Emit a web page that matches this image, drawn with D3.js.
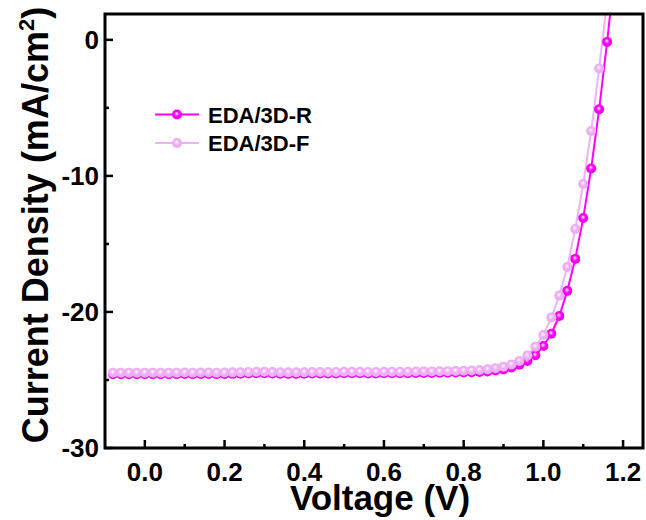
<!DOCTYPE html>
<html>
<head>
<meta charset="utf-8">
<script src="https://cdn.jsdelivr.net/npm/d3@7"></script>
<style>
html,body{margin:0;padding:0;background:#fff;}
svg{display:block;font-family:"Liberation Sans",Arial,sans-serif;}
</style>
</head>
<body>
<svg id="chart" width="646" height="520"></svg>
<script>
// ---- data ----
const voltageR = [-0.08,-0.06,-0.04,-0.02,0.00,0.02,0.04,0.06,0.08,0.10,0.12,0.14,0.16,0.18,0.20,0.22,0.24,0.26,0.28,0.30,0.32,0.34,0.36,0.38,0.40,0.42,0.44,0.46,0.48,0.50,0.52,0.54,0.56,0.58,0.60,0.62,0.64,0.66,0.68,0.70,0.72,0.74,0.76,0.78,0.80,0.82,0.84,0.86,0.88,0.90,0.92,0.94,0.96,0.98,1.00,1.02,1.04,1.06,1.08,1.10,1.12,1.14,1.16,1.18];
const currentR = [-24.58,-24.58,-24.57,-24.58,-24.57,-24.57,-24.58,-24.57,-24.57,-24.56,-24.57,-24.56,-24.56,-24.57,-24.56,-24.55,-24.54,-24.52,-24.50,-24.51,-24.53,-24.54,-24.55,-24.55,-24.54,-24.53,-24.53,-24.52,-24.52,-24.51,-24.51,-24.51,-24.52,-24.52,-24.51,-24.50,-24.50,-24.50,-24.49,-24.48,-24.48,-24.47,-24.46,-24.45,-24.44,-24.43,-24.41,-24.37,-24.31,-24.22,-24.08,-23.88,-23.60,-23.18,-22.50,-21.60,-20.30,-18.45,-16.10,-13.10,-9.45,-5.10,-0.15,5.30];
const voltageF = [-0.08,-0.06,-0.04,-0.02,0.00,0.02,0.04,0.06,0.08,0.10,0.12,0.14,0.16,0.18,0.20,0.22,0.24,0.26,0.28,0.30,0.32,0.34,0.36,0.38,0.40,0.42,0.44,0.46,0.48,0.50,0.52,0.54,0.56,0.58,0.60,0.62,0.64,0.66,0.68,0.70,0.72,0.74,0.76,0.78,0.80,0.82,0.84,0.86,0.88,0.90,0.92,0.94,0.96,0.98,1.00,1.02,1.04,1.06,1.08,1.10,1.12,1.14,1.16];
const currentF = [-24.47,-24.47,-24.46,-24.47,-24.46,-24.46,-24.47,-24.46,-24.46,-24.45,-24.46,-24.45,-24.45,-24.46,-24.45,-24.44,-24.43,-24.41,-24.39,-24.40,-24.42,-24.43,-24.44,-24.44,-24.43,-24.42,-24.42,-24.41,-24.41,-24.40,-24.40,-24.40,-24.41,-24.41,-24.40,-24.39,-24.39,-24.39,-24.38,-24.37,-24.37,-24.36,-24.35,-24.34,-24.32,-24.30,-24.27,-24.22,-24.13,-24.02,-23.86,-23.60,-23.20,-22.55,-21.70,-20.40,-18.80,-16.70,-13.90,-10.60,-6.70,-2.10,2.90];
const seriesNames = ["EDA/3D-R","EDA/3D-F"];
const seriesColors = ["#ff00ff","#f0b2f7"];
const xTicks = [0.0,0.2,0.4,0.6,0.8,1.0,1.2];
const xMinor = [0.1,0.3,0.5,0.7,0.9,1.1];
const yTicks = [0,-10,-20,-30];
const yMinor = [-5,-15,-25];

// ---- layout ----
const svg = d3.select("#chart");
const L = 105, R = 643, T = 14, B = 448;
const x = d3.scaleLinear().domain([-0.1, 1.25]).range([L, R]);
const y = d3.scaleLinear().domain([-30, 1.9]).range([B, T]);

const defs = svg.append("defs");
defs.append("clipPath").attr("id","plotclip").append("rect")
  .attr("x",L).attr("y",T).attr("width",R-L).attr("height",B-T);
seriesColors.forEach((c,i)=>{
  const g = defs.append("radialGradient").attr("id","ball"+i)
    .attr("cx","50%").attr("cy","50%").attr("r","55%").attr("fx","45%").attr("fy","38%");
  g.append("stop").attr("offset","0%").attr("stop-color","#ffffff");
  g.append("stop").attr("offset","45%").attr("stop-color",c);
  g.append("stop").attr("offset","100%").attr("stop-color",i===0?"#e800e8":"#e9a6f2");
});

const series = [
  {v: voltageR, j: currentR},
  {v: voltageF, j: currentF}
];

const plot = svg.append("g").attr("clip-path","url(#plotclip)");
const line = d3.line().x(d=>x(d[0])).y(d=>y(d[1]));
series.forEach((s,i)=>{
  const pts = s.v.map((v,k)=>[v, s.j[k]]);
  plot.append("path").datum(pts).attr("d",line)
    .attr("fill","none").attr("stroke",seriesColors[i]).attr("stroke-width",2);
});
series.forEach((s,i)=>{
  const pts = s.v.map((v,k)=>[v, s.j[k]]);
  plot.selectAll(".m"+i).data(pts).enter().append("circle")
    .attr("cx",d=>x(d[0])).attr("cy",d=>y(d[1])).attr("r",5)
    .attr("fill","url(#ball"+i+")");
});

// ---- axes ----
const ax = svg.append("g");
ax.selectAll(".xt").data(xTicks).enter().append("line")
  .attr("x1",d=>x(d)).attr("x2",d=>x(d)).attr("y1",B).attr("y2",B-8)
  .attr("stroke","#000").attr("stroke-width",2.5);
ax.selectAll(".xm").data(xMinor).enter().append("line")
  .attr("x1",d=>x(d)).attr("x2",d=>x(d)).attr("y1",B).attr("y2",B-4)
  .attr("stroke","#000").attr("stroke-width",2.5);
ax.selectAll(".yt").data(yTicks).enter().append("line")
  .attr("x1",L).attr("x2",L+8).attr("y1",d=>y(d)).attr("y2",d=>y(d))
  .attr("stroke","#000").attr("stroke-width",2.5);
ax.selectAll(".ym").data(yMinor).enter().append("line")
  .attr("x1",L).attr("x2",L+4).attr("y1",d=>y(d)).attr("y2",d=>y(d))
  .attr("stroke","#000").attr("stroke-width",2.5);
ax.append("rect").attr("x",L).attr("y",T).attr("width",R-L).attr("height",B-T)
  .attr("fill","none").attr("stroke","#000").attr("stroke-width",3);

// tick labels
ax.selectAll(".xl").data(xTicks).enter().append("text")
  .attr("x",d=>x(d)).attr("y",481).attr("text-anchor","middle")
  .attr("font-size",26).attr("font-weight","bold").text(d=>d.toFixed(1));
ax.selectAll(".yl").data(yTicks).enter().append("text")
  .attr("x",99).attr("y",d=>y(d)).attr("dy","0.36em").attr("text-anchor","end")
  .attr("font-size",26).attr("font-weight","bold").text(d=>d);

// axis titles
svg.append("text").attr("x",380).attr("y",510).attr("text-anchor","middle")
  .attr("font-size",35).attr("font-weight","bold").text("Voltage (V)");
const yt = svg.append("text").attr("transform","translate(48,225) rotate(-90)")
  .attr("text-anchor","middle").attr("font-size",36).attr("font-weight","bold");
yt.append("tspan").text("Current Density (mA/cm");
yt.append("tspan").attr("font-size",22).attr("dy",-14).text("2");
yt.append("tspan").attr("dy",14).text(")");

// legend
const lg = svg.append("g");
seriesNames.forEach((n,i)=>{
  const ly = 114.5 + i*28.5;
  lg.append("line").attr("x1",155).attr("x2",199).attr("y1",ly).attr("y2",ly)
    .attr("stroke",seriesColors[i]).attr("stroke-width",2);
  lg.append("circle").attr("cx",177).attr("cy",ly).attr("r",5).attr("fill","url(#ball"+i+")");
  lg.append("text").attr("x",208).attr("y",ly+8).attr("font-size",22)
    .attr("font-weight","bold").text(n);
});
</script>
</body>
</html>
